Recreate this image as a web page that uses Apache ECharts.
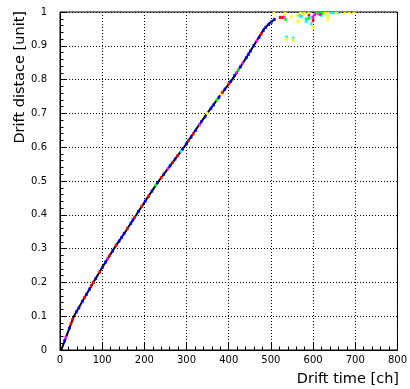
<!DOCTYPE html>
<html><head><meta charset="utf-8">
<script src="https://cdn.jsdelivr.net/npm/echarts@6/dist/echarts.min.js"></script>
<style>html,body{margin:0;padding:0;background:#fff}#c{width:410px;height:389px}</style>
</head><body><div id="c"></div>
<script>
// Drift-time (ch) vs drift-distance relation
const curveTime = [3, 18, 33, 56, 79, 103, 128, 155, 181, 207, 234, 264, 294, 321, 349, 378, 408, 434, 459, 484, 498, 510];
const curveDist = [0, 0.05, 0.1, 0.15, 0.2, 0.25, 0.3, 0.35, 0.4, 0.45, 0.5, 0.55, 0.6, 0.65, 0.7, 0.75, 0.8, 0.85, 0.9, 0.95, 0.969, 0.979];

// Coloured histogram cells on the curve: time, distance, colour index
const cellTime = [11, 14, 22, 26, 30, 39, 45, 53, 58, 63, 70, 74, 79, 85, 94, 101, 108, 113, 118, 125, 133, 140, 146, 152, 160, 168, 173, 177, 186, 194, 202, 210, 218, 227, 231, 240, 246, 256, 261, 267, 273, 279, 287, 291, 300, 305, 311, 316, 322, 331, 335, 344, 349, 358, 364, 372, 377, 382, 385, 391, 400, 405, 414, 419, 423, 428, 433, 442, 447, 452, 459, 467, 472, 477, 482, 488, 495, 501, 508];
const cellDist = [0.027, 0.037, 0.064, 0.078, 0.09, 0.113, 0.125, 0.144, 0.155, 0.165, 0.18, 0.19, 0.2, 0.212, 0.23, 0.245, 0.26, 0.27, 0.28, 0.293, 0.31, 0.322, 0.333, 0.345, 0.36, 0.375, 0.385, 0.392, 0.41, 0.425, 0.44, 0.455, 0.47, 0.488, 0.495, 0.51, 0.52, 0.536, 0.545, 0.555, 0.565, 0.575, 0.588, 0.595, 0.61, 0.62, 0.63, 0.639, 0.65, 0.667, 0.675, 0.69, 0.7, 0.715, 0.725, 0.74, 0.748, 0.757, 0.762, 0.772, 0.787, 0.795, 0.812, 0.821, 0.829, 0.838, 0.849, 0.865, 0.875, 0.885, 0.9, 0.915, 0.925, 0.935, 0.945, 0.955, 0.963, 0.97, 0.978];
const cellColor = [0, 2, 0, 1, 1, 0, 0, 0, 1, 0, 0, 1, 1, 0, 1, 0, 0, 2, 1, 0, 1, 0, 0, 0, 1, 0, 0, 1, 0, 1, 0, 1, 0, 4, 0, 1, 0, 2, 0, 1, 0, 1, 3, 0, 0, 1, 0, 1, 0, 2, 0, 0, 5, 0, 0, 4, 0, 5, 1, 0, 1, 0, 0, 2, 4, 0, 2, 0, 0, 0, 0, 2, 0, 1, 0, 0, 0, 0, 0];

// Sparse cells near the top (late hits)
const cloudTime = [508, 522, 528, 532, 533, 533, 535, 549, 563, 568, 565, 573, 580, 584, 584, 590, 594, 600, 600, 600, 612, 608, 617, 626, 620, 635, 635, 635, 643, 659, 675, 686, 698, 537, 537, 553, 553, 604, 589, 578, 596, 610, 622, 628, 617, 648, 655, 570, 590];
const cloudDist = [0.998, 0.984, 0.984, 0.985, 0.992, 0.998, 0.978, 0.986, 0.991, 0.989, 0.972, 0.987, 0.998, 0.979, 0.972, 0.991, 0.984, 0.985, 0.975, 0.955, 0.995, 0.998, 0.998, 0.998, 0.99, 0.997, 0.987, 0.977, 0.998, 0.998, 0.998, 0.998, 0.998, 0.926, 0.92, 0.923, 0.917, 0.993, 0.998, 0.994, 0.965, 0.998, 0.996, 0.998, 0.993, 0.998, 0.998, 0.998, 0.981];
const cloudColor = [5, 1, 1, 2, 5, 5, 4, 5, 5, 3, 5, 3, 5, 4, 3, 1, 3, 2, 1, 5, 2, 4, 4, 4, 3, 5, 5, 5, 3, 3, 5, 5, 5, 3, 5, 3, 5, 2, 5, 5, 3, 4, 4, 5, 2, 3, 5, 5, 4];

const palette = ['#0000ff', '#ff0000', '#ff00ff', '#00ffff', '#00ff00', '#ffff00', '#000000'];
const xTicks = [0, 800, 100];
const yTicks = [0, 1, 0.1];
const binX = 6, binY = 0.009;

const chart = echarts.init(document.getElementById('c'), null, {renderer: 'canvas'});

function renderCell(params, api) {
  const t = api.value(0), d = api.value(1);
  const p0 = api.coord([t - binX / 2, d - binY / 2]);
  const p1 = api.coord([t + binX / 2, Math.min(1, d + binY / 2)]);
  return {
    type: 'rect',
    shape: {x: p0[0], y: p1[1], width: p1[0] - p0[0], height: p0[1] - p1[1]},
    style: {fill: palette[api.value(2)]}
  };
}

const font = 'DejaVu Sans';
chart.setOption({
  animation: false,
  backgroundColor: '#fff',
  grid: {left: 60, right: 10, top: 12, bottom: 39, show: true, borderColor: '#000', borderWidth: 1, backgroundColor: 'transparent'},
  xAxis: {
    type: 'value', min: xTicks[0], max: xTicks[1], interval: xTicks[2],
    axisLine: {show: true, onZero: false, lineStyle: {color: '#000', width: 1}},
    axisTick: {show: true, inside: true, length: 7, lineStyle: {color: '#000'}},
    minorTick: {show: true, splitNumber: 5, length: 3.5, lineStyle: {color: '#000'}},
    splitLine: {show: true, lineStyle: {color: '#000', type: [1, 2], width: 1}},
    axisLabel: {color: '#000', fontFamily: font, fontSize: 10, margin: 5}
  },
  yAxis: {
    type: 'value', min: yTicks[0], max: yTicks[1], interval: yTicks[2],
    axisLine: {show: true, onZero: false, lineStyle: {color: '#000', width: 1}},
    axisTick: {show: true, inside: true, length: 7, lineStyle: {color: '#000'}},
    minorTick: {show: true, splitNumber: 5, length: 3.5, lineStyle: {color: '#000'}},
    splitLine: {show: true, lineStyle: {color: '#000', type: [1, 2], width: 1}},
    axisLabel: {color: '#000', fontFamily: font, fontSize: 10, margin: 13}
  },
  graphic: [
    {type: 'text', x: 399, y: 379, style: {text: 'Drift time [ch]', font: '14.5px "DejaVu Sans"', fill: '#000', textAlign: 'right', textVerticalAlign: 'middle'}},
    {type: 'text', x: 20, y: 11, rotation: Math.PI / 2, style: {text: 'Drift distace [unit]', font: '14.5px "DejaVu Sans"', fill: '#000', textAlign: 'right', textVerticalAlign: 'middle'}}
  ],
  series: [
    {type: 'line', data: curveTime.map((t, i) => [t, curveDist[i]]), symbol: 'none', lineStyle: {color: '#000', width: 2}, z: 2},
    {type: 'custom', renderItem: renderCell, data: cellTime.map((t, i) => [t, cellDist[i], cellColor[i]]), z: 3},
    {type: 'custom', renderItem: renderCell, data: cloudTime.map((t, i) => [t, cloudDist[i], cloudColor[i]]), z: 3}
  ]
});
</script></body></html>
